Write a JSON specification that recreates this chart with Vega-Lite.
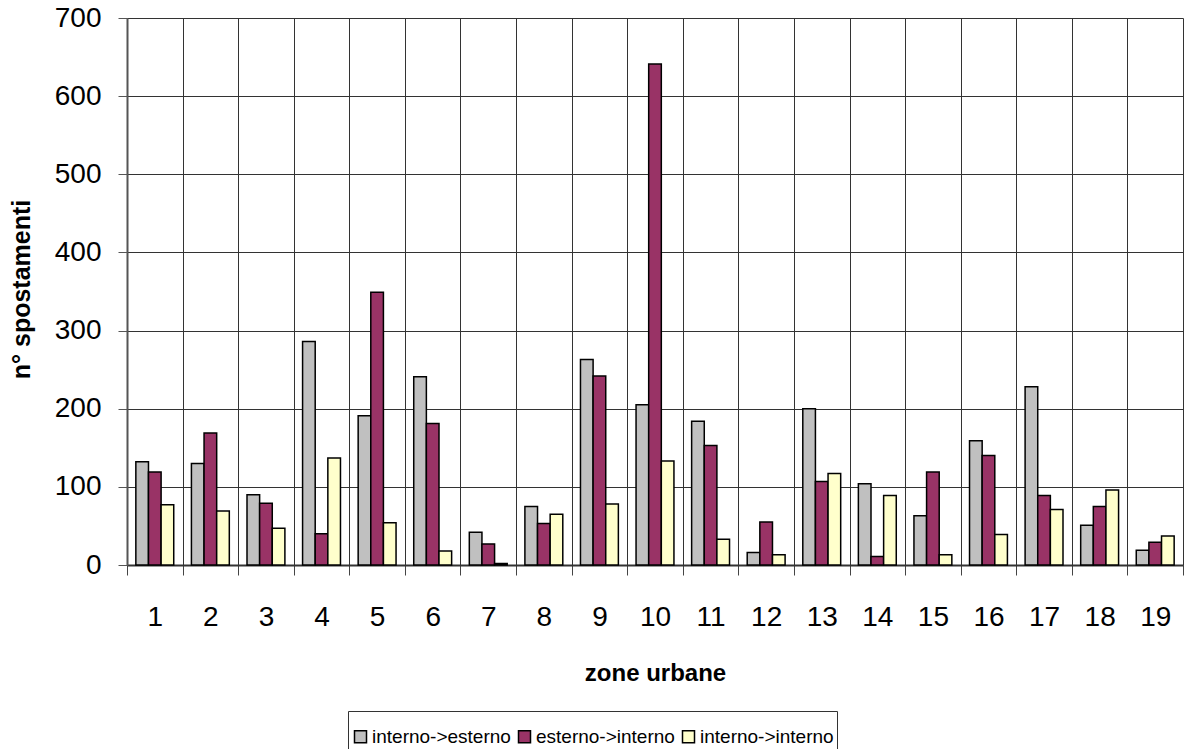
{
  "$schema": "https://vega.github.io/schema/vega-lite/v6.json",
  "width": 1056,
  "height": 547,
  "autosize": {"type": "none"},
  "padding": {"left": 127, "top": 18, "right": 4, "bottom": 184},
  "background": "white",
  "config": {
    "view": {"stroke": null},
    "font": "Liberation Sans"
  },
  "data": {
    "values": [
      {"zona": 1, "serie": "interno->esterno", "valore": 132},
      {"zona": 1, "serie": "esterno->interno", "valore": 119},
      {"zona": 1, "serie": "interno->interno", "valore": 77},
      {"zona": 2, "serie": "interno->esterno", "valore": 130},
      {"zona": 2, "serie": "esterno->interno", "valore": 169},
      {"zona": 2, "serie": "interno->interno", "valore": 69},
      {"zona": 3, "serie": "interno->esterno", "valore": 90},
      {"zona": 3, "serie": "esterno->interno", "valore": 79},
      {"zona": 3, "serie": "interno->interno", "valore": 47},
      {"zona": 4, "serie": "interno->esterno", "valore": 286},
      {"zona": 4, "serie": "esterno->interno", "valore": 40},
      {"zona": 4, "serie": "interno->interno", "valore": 137},
      {"zona": 5, "serie": "interno->esterno", "valore": 191},
      {"zona": 5, "serie": "esterno->interno", "valore": 349},
      {"zona": 5, "serie": "interno->interno", "valore": 54},
      {"zona": 6, "serie": "interno->esterno", "valore": 241},
      {"zona": 6, "serie": "esterno->interno", "valore": 181},
      {"zona": 6, "serie": "interno->interno", "valore": 18},
      {"zona": 7, "serie": "interno->esterno", "valore": 42},
      {"zona": 7, "serie": "esterno->interno", "valore": 27},
      {"zona": 7, "serie": "interno->interno", "valore": 2},
      {"zona": 8, "serie": "interno->esterno", "valore": 75},
      {"zona": 8, "serie": "esterno->interno", "valore": 53},
      {"zona": 8, "serie": "interno->interno", "valore": 65},
      {"zona": 9, "serie": "interno->esterno", "valore": 263},
      {"zona": 9, "serie": "esterno->interno", "valore": 242},
      {"zona": 9, "serie": "interno->interno", "valore": 78},
      {"zona": 10, "serie": "interno->esterno", "valore": 205},
      {"zona": 10, "serie": "esterno->interno", "valore": 641},
      {"zona": 10, "serie": "interno->interno", "valore": 133},
      {"zona": 11, "serie": "interno->esterno", "valore": 184},
      {"zona": 11, "serie": "esterno->interno", "valore": 153},
      {"zona": 11, "serie": "interno->interno", "valore": 33},
      {"zona": 12, "serie": "interno->esterno", "valore": 16},
      {"zona": 12, "serie": "esterno->interno", "valore": 55},
      {"zona": 12, "serie": "interno->interno", "valore": 13},
      {"zona": 13, "serie": "interno->esterno", "valore": 200},
      {"zona": 13, "serie": "esterno->interno", "valore": 107},
      {"zona": 13, "serie": "interno->interno", "valore": 117},
      {"zona": 14, "serie": "interno->esterno", "valore": 104},
      {"zona": 14, "serie": "esterno->interno", "valore": 11},
      {"zona": 14, "serie": "interno->interno", "valore": 89},
      {"zona": 15, "serie": "interno->esterno", "valore": 63},
      {"zona": 15, "serie": "esterno->interno", "valore": 119},
      {"zona": 15, "serie": "interno->interno", "valore": 13},
      {"zona": 16, "serie": "interno->esterno", "valore": 159},
      {"zona": 16, "serie": "esterno->interno", "valore": 140},
      {"zona": 16, "serie": "interno->interno", "valore": 39},
      {"zona": 17, "serie": "interno->esterno", "valore": 228},
      {"zona": 17, "serie": "esterno->interno", "valore": 89},
      {"zona": 17, "serie": "interno->interno", "valore": 71},
      {"zona": 18, "serie": "interno->esterno", "valore": 51},
      {"zona": 18, "serie": "esterno->interno", "valore": 75},
      {"zona": 18, "serie": "interno->interno", "valore": 96},
      {"zona": 19, "serie": "interno->esterno", "valore": 19},
      {"zona": 19, "serie": "esterno->interno", "valore": 29},
      {"zona": 19, "serie": "interno->interno", "valore": 37}
    ]
  },
  "mark": {"type": "bar", "stroke": "black", "strokeWidth": 1.5},
  "encoding": {
    "x": {
      "field": "zona",
      "type": "ordinal",
      "scale": {"paddingInner": 0, "paddingOuter": 0},
      "axis": {
        "title": "zone urbane",
        "titleFont": "Liberation Sans",
        "titleFontSize": 24,
        "titleFontWeight": "bold",
        "titleColor": "black",
        "titleBaseline": "middle",
        "titleY": 108,
        "labelAngle": 0,
        "labelFont": "Liberation Sans",
        "labelFontSize": 28,
        "labelColor": "black",
        "labelBaseline": "middle",
        "labelPadding": 42,
        "tickBand": "extent",
        "tickSize": 10,
        "tickColor": "#444",
        "tickWidth": 1,
        "grid": true,
        "gridColor": "#333",
        "gridWidth": 1,
        "domainColor": "#333",
        "domainWidth": 2
      }
    },
    "xOffset": {
      "field": "serie",
      "type": "nominal",
      "sort": ["interno->esterno", "esterno->interno", "interno->interno"],
      "scale": {"paddingInner": 0, "paddingOuter": 0.7}
    },
    "y": {
      "field": "valore",
      "type": "quantitative",
      "scale": {"domain": [0, 700], "nice": false},
      "axis": {
        "title": "n° spostamenti",
        "titleFont": "Liberation Sans",
        "titleFontSize": 25,
        "titleFontWeight": "bold",
        "titleColor": "black",
        "titleX": -106,
        "titleY": 271,
        "titleBaseline": "middle",
        "values": [0, 100, 200, 300, 400, 500, 600, 700],
        "labelFont": "Liberation Sans",
        "labelFontSize": 28,
        "labelColor": "black",
        "labelPadding": 17,
        "tickSize": 9,
        "tickColor": "#555",
        "grid": true,
        "gridColor": "#333",
        "gridWidth": 1,
        "domainColor": "#555",
        "domainWidth": 2
      }
    },
    "color": {
      "field": "serie",
      "type": "nominal",
      "sort": ["interno->esterno", "esterno->interno", "interno->interno"],
      "scale": {
        "domain": ["interno->esterno", "esterno->interno", "interno->interno"],
        "range": ["#C0C0C0", "#993366", "#FFFFCC"]
      },
      "legend": {
        "title": " ",
        "titleFontSize": 10,
        "titlePadding": 3,
        "orient": "none",
        "direction": "horizontal",
        "legendX": 221,
        "legendY": 693,
        "padding": 3,
        "strokeColor": "#333",
        "fillColor": "white",
        "symbolType": "square",
        "symbolSize": 144,
        "symbolStrokeColor": "black",
        "symbolStrokeWidth": 1.5,
        "symbolOpacity": 1,
        "labelFont": "Liberation Sans",
        "labelFontSize": 19,
        "labelColor": "black",
        "labelOffset": 2,
        "columnPadding": 4,
        "labelLimit": 400
      }
    }
  }
}
